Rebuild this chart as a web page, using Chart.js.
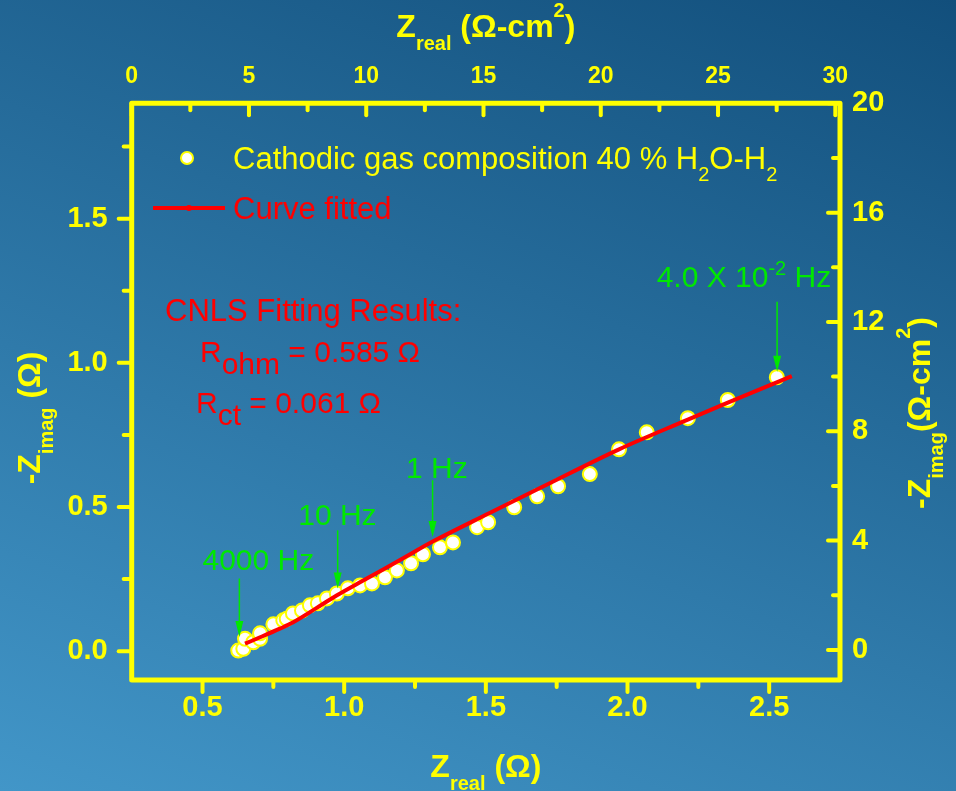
<!DOCTYPE html>
<html>
<head>
<meta charset="utf-8">
<title>Impedance spectrum - 40 % H2O-H2</title>
<script src="https://cdn.jsdelivr.net/npm/chart.js@4.4.1/dist/chart.umd.min.js"></script>
<style>
  html, body { margin: 0; padding: 0; }
  body {
    width: 956px; height: 791px; overflow: hidden;
    background: linear-gradient(200deg, #124f7c 0%, #4296c8 100%);
  }
  canvas { display: block; }
</style>
</head>
<body>
<canvas id="chart" width="956" height="791"></canvas>
<script>
// measured impedance (ohm)
const zReal = [0.626, 0.644, 0.650, 0.679, 0.703, 0.703, 0.750, 0.785, 0.797, 0.819, 0.851, 0.879,
  0.907, 0.939, 0.974, 1.013, 1.056, 1.098, 1.144, 1.186, 1.236, 1.278, 1.338, 1.384,
  1.469, 1.508, 1.600, 1.681, 1.755, 1.867, 1.970, 2.068, 2.213, 2.354, 2.527];
const zImag = [0.002, 0.008, 0.043, 0.031, 0.043, 0.062, 0.093, 0.107, 0.112, 0.131, 0.141, 0.159,
  0.166, 0.183, 0.200, 0.218, 0.228, 0.235, 0.256, 0.280, 0.305, 0.336, 0.360, 0.377,
  0.430, 0.447, 0.499, 0.537, 0.572, 0.614, 0.700, 0.759, 0.808, 0.871, 0.950];

// CNLS fitted curve
const fitReal = [0.650, 0.691, 0.773, 0.820, 0.903, 0.973, 1.067, 1.208, 1.314, 1.515, 1.700, 1.970, 2.213, 2.354, 2.580];
const fitImag = [0.026, 0.043, 0.078, 0.100, 0.150, 0.193, 0.245, 0.322, 0.381, 0.480, 0.570, 0.700, 0.803, 0.862, 0.954];

// tick values
const xMajor = [0.5, 1.0, 1.5, 2.0, 2.5];
const xMinor = [0.75, 1.25, 1.75, 2.25];
const yMajor = [0.0, 0.5, 1.0, 1.5];
const yMinor = [0.25, 0.75, 1.25, 1.75];
const x2Major = [0, 5, 10, 15, 20, 25, 30];
const x2Minor = [2.5, 7.5, 12.5, 17.5, 22.5, 27.5];
const y2Major = [0, 4, 8, 12, 16, 20];
const y2Minor = [2, 6, 10, 14, 18];

// frequency markers (ohm units)
const markers = [
  { x: 0.630, from: 0.252, to: 0.049, lx: 0.697, ly: 0.280, text: [{ t: '4000 Hz' }] },
  { x: 0.977, from: 0.419, to: 0.217, lx: 0.976, ly: 0.436, text: [{ t: '10 Hz' }] },
  { x: 1.312, from: 0.593, to: 0.396, lx: 1.327, ly: 0.599, text: [{ t: '1 Hz' }] },
  { x: 2.528, from: 1.212, to: 0.969, lx: 2.411, ly: 1.264,
    text: [{ t: '4.0 X 10' }, { t: '-2', sup: true }, { t: ' Hz' }] },
];

const YELLOW = '#ffff00';
const RED = '#ff0000';
const GREEN = '#00e800';
const FONT = "'Liberation Sans', Arial, sans-serif";

Chart.defaults.font.family = FONT;

function runsWidth(ctx, runs) {
  let w = 0;
  runs.forEach(r => { ctx.font = r.font; w += ctx.measureText(r.t).width; });
  return w;
}

function drawRuns(ctx, runs, x, y, align, angle, color) {
  ctx.save();
  ctx.translate(x, y);
  if (angle) ctx.rotate(angle);
  ctx.textBaseline = 'alphabetic';
  ctx.textAlign = 'left';
  const w = runsWidth(ctx, runs);
  let cx = align === 'center' ? -w / 2 : (align === 'right' ? -w : 0);
  runs.forEach(r => {
    ctx.font = r.font;
    ctx.fillStyle = r.color || color;
    ctx.fillText(r.t, cx, r.dy || 0);
    cx += ctx.measureText(r.t).width;
  });
  ctx.restore();
}

const B32 = 'bold 32px ' + FONT;
const B20 = 'bold 20px ' + FONT;
const N31 = '31px ' + FONT;
const N30 = '30px ' + FONT;
const N20 = '20px ' + FONT;

const decor = {
  id: 'decor',
  afterDraw(chart) {
    const ctx = chart.ctx;
    const a = chart.chartArea;
    const { x, y, x2, y2 } = chart.scales;
    ctx.save();

    // frame
    ctx.strokeStyle = YELLOW;
    ctx.lineWidth = 5;
    ctx.lineJoin = 'round';
    ctx.strokeRect(a.left, a.top, a.right - a.left, a.bottom - a.top);

    // ticks
    ctx.lineWidth = 4;
    ctx.lineCap = 'round';
    const seg = (x1, y1, x2_, y2_) => { ctx.beginPath(); ctx.moveTo(x1, y1); ctx.lineTo(x2_, y2_); ctx.stroke(); };
    xMajor.forEach(v => { const p = x.getPixelForValue(v); seg(p, a.bottom, p, a.bottom + 12); });
    xMinor.forEach(v => { const p = x.getPixelForValue(v); seg(p, a.bottom, p, a.bottom + 7); });
    yMajor.forEach(v => { const p = y.getPixelForValue(v); seg(a.left, p, a.left - 13, p); });
    yMinor.forEach(v => { const p = y.getPixelForValue(v); seg(a.left, p, a.left - 8, p); });
    x2Major.forEach(v => { const p = x2.getPixelForValue(v); seg(p, a.top, p, a.top + 12); });
    x2Minor.forEach(v => { const p = x2.getPixelForValue(v); seg(p, a.top, p, a.top + 7); });
    y2Major.forEach(v => { const p = y2.getPixelForValue(v); seg(a.right, p, a.right - 12, p); });
    y2Minor.forEach(v => { const p = y2.getPixelForValue(v); seg(a.right, p, a.right - 7, p); });

    // axis titles
    const cx = (a.left + a.right) / 2;
    drawRuns(ctx, [
      { t: 'Z', font: B32 }, { t: 'real', font: B20, dy: 13 }, { t: ' (\u03A9-cm', font: B32 },
      { t: '2', font: B20, dy: -20 }, { t: ')', font: B32 }
    ], cx, 37, 'center', 0, YELLOW);
    drawRuns(ctx, [
      { t: 'Z', font: B32 }, { t: 'real', font: B20, dy: 13 }, { t: ' (\u03A9)', font: B32 }
    ], cx, 777, 'center', 0, YELLOW);
    drawRuns(ctx, [
      { t: '-Z', font: B32 }, { t: 'imag', font: B20, dy: 13 }, { t: ' (\u03A9)', font: B32 }
    ], 40, 418, 'center', -Math.PI / 2, YELLOW);
    drawRuns(ctx, [
      { t: '-Z', font: B32 }, { t: 'imag', font: B20, dy: 13 }, { t: '(\u03A9-cm', font: B32 },
      { t: '2', font: B20, dy: -20 }, { t: ')', font: B32 }
    ], 930, 413, 'center', -Math.PI / 2, YELLOW);

    // legend
    ctx.fillStyle = '#ffffff';
    ctx.strokeStyle = YELLOW;
    ctx.lineWidth = 2;
    ctx.beginPath(); ctx.arc(187, 158, 6, 0, Math.PI * 2); ctx.fill(); ctx.stroke();
    drawRuns(ctx, [
      { t: 'Cathodic gas composition 40 % H', font: N31 }, { t: '2', font: N20, dy: 12 },
      { t: 'O-H', font: N31 }, { t: '2', font: N20, dy: 12 }
    ], 233, 169, 'left', 0, YELLOW);
    ctx.strokeStyle = RED;
    ctx.lineWidth = 4;
    ctx.lineCap = 'butt';
    seg(153, 208, 225, 208);
    ctx.fillStyle = RED;
    ctx.beginPath(); ctx.arc(189, 208, 3, 0, Math.PI * 2); ctx.fill();
    drawRuns(ctx, [{ t: 'Curve fitted', font: N31 }], 233, 219, 'left', 0, RED);

    // fitting results
    drawRuns(ctx, [{ t: 'CNLS Fitting Results:', font: N31 }], 165, 321, 'left', 0, RED);
    drawRuns(ctx, [
      { t: 'R', font: N30 }, { t: 'ohm', font: N30, dy: 12 }, { t: ' = 0.585 \u03A9', font: N30 }
    ], 200, 362, 'left', 0, RED);
    drawRuns(ctx, [
      { t: 'R', font: N30 }, { t: 'ct', font: N30, dy: 12 }, { t: ' = 0.061 \u03A9', font: N30 }
    ], 196, 413, 'left', 0, RED);

    // frequency markers
    markers.forEach(m => {
      const px = x.getPixelForValue(m.x);
      const top = y.getPixelForValue(m.from);
      const tip = y.getPixelForValue(m.to);
      ctx.strokeStyle = GREEN;
      ctx.fillStyle = GREEN;
      ctx.lineWidth = 1.5;
      seg(px, top, px, tip - 14);
      ctx.beginPath();
      ctx.moveTo(px - 4, tip - 16);
      ctx.lineTo(px + 4, tip - 16);
      ctx.lineTo(px, tip);
      ctx.closePath();
      ctx.fill();
      const runs = m.text.map(r => r.sup ? { t: r.t, font: N20, dy: -12 } : { t: r.t, font: N30 });
      drawRuns(ctx, runs, x.getPixelForValue(m.lx), y.getPixelForValue(m.ly), 'center', 0, GREEN);
    });

    ctx.restore();
  }
};

const axisBase = (size) => ({
  type: 'linear',
  grid: { display: false, drawTicks: false },
  border: { display: false },
  ticks: { color: YELLOW, font: { size: size, weight: 'bold' }, autoSkip: false, maxRotation: 0 },
});

const xAxis = axisBase(29);
Object.assign(xAxis, { position: 'bottom', min: 0.25, max: 2.75 });
xAxis.ticks.padding = 11;
xAxis.ticks.callback = v => v.toFixed(1);
xAxis.afterBuildTicks = s => { s.ticks = xMajor.map(v => ({ value: v })); };
xAxis.afterFit = s => { s.height = 111; };

const yAxis = axisBase(29);
Object.assign(yAxis, { position: 'left', min: -0.1, max: 1.9 });
yAxis.ticks.padding = 24;
yAxis.ticks.callback = v => v.toFixed(1);
yAxis.afterBuildTicks = s => { s.ticks = yMajor.map(v => ({ value: v })); };
yAxis.afterFit = s => { s.width = 131.7; };

const x2Axis = axisBase(23);
Object.assign(x2Axis, { position: 'top', min: 0, max: 30.2 });
x2Axis.ticks.padding = 13;
x2Axis.ticks.callback = v => String(v);
x2Axis.afterBuildTicks = s => { s.ticks = x2Major.map(v => ({ value: v })); };
x2Axis.afterFit = s => { s.height = 103.3; };

const y2Axis = axisBase(29);
Object.assign(y2Axis, { position: 'right', min: -1.1, max: 20 });
y2Axis.ticks.padding = 12;
y2Axis.ticks.callback = v => String(v);
y2Axis.afterBuildTicks = s => { s.ticks = y2Major.map(v => ({ value: v })); };
y2Axis.afterFit = s => { s.width = 116; };

new Chart(document.getElementById('chart'), {
  type: 'scatter',
  data: {
    datasets: [{
      label: 'Curve fitted',
      data: fitReal.map((v, i) => ({ x: v, y: fitImag[i] })),
      showLine: true,
      borderColor: RED,
      borderWidth: 4,
      pointRadius: 0,
      tension: 0.35,
      order: 0,
      xAxisID: 'x',
      yAxisID: 'y',
    }, {
      label: 'Cathodic gas composition 40 % H2O-H2',
      data: zReal.map((v, i) => ({ x: v, y: zImag[i] })),
      pointRadius: 7,
      pointBackgroundColor: '#ffffff',
      pointBorderColor: YELLOW,
      pointBorderWidth: 2,
      order: 1,
      xAxisID: 'x',
      yAxisID: 'y',
    }],
  },
  options: {
    responsive: false,
    devicePixelRatio: 1,
    animation: false,
    layout: { padding: 0 },
    plugins: {
      legend: { display: false },
      tooltip: { enabled: false },
    },
    scales: { x: xAxis, y: yAxis, x2: x2Axis, y2: y2Axis },
  },
  plugins: [decor],
});
</script>
</body>
</html>
